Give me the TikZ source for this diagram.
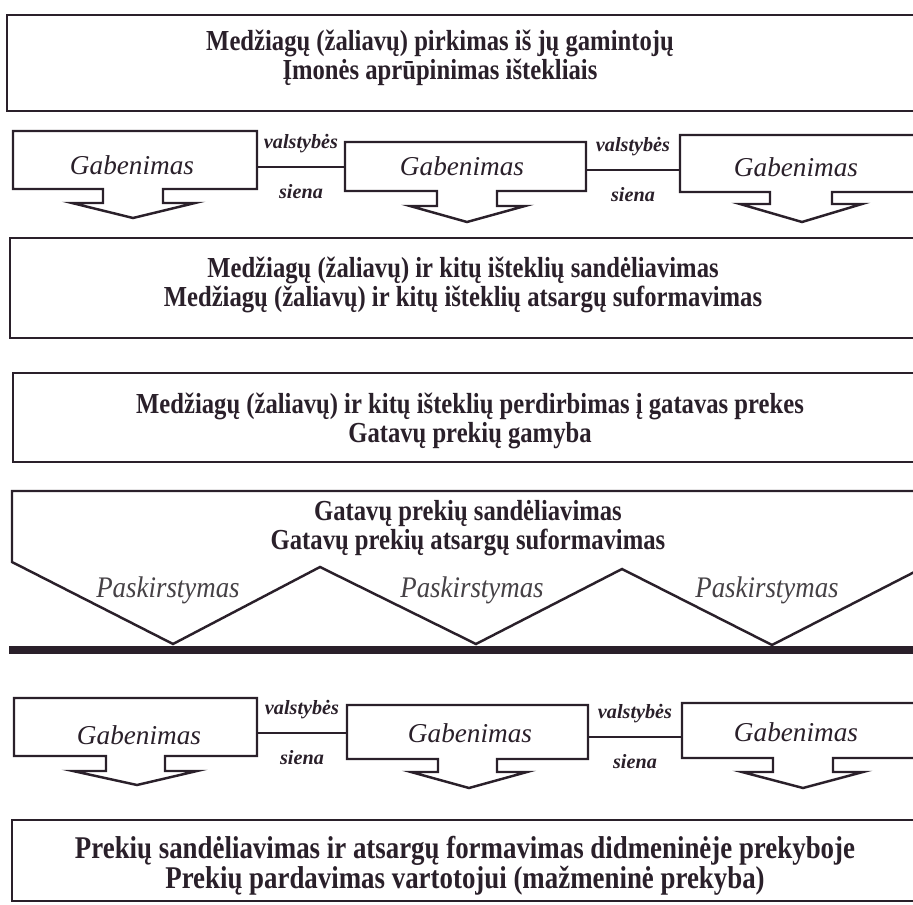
\documentclass[tikz,border=0pt]{standalone}
\usepackage{fontspec}
\setmainfont{Liberation Serif}
\newfontfamily\narrowserif[FakeStretch=0.9]{Liberation Serif}
\newfontfamily\condserif[FakeStretch=0.85]{Liberation Serif}
\definecolor{inkcol}{RGB}{42,32,42}
\definecolor{distcol}{RGB}{70,66,70}

\begin{document}
\begin{tikzpicture}[x=0.02cm,y=-0.02cm]
  \tikzset{boxline/.style = {draw=inkcol,line width=1.4pt}}
  \tikzset{bigtext/.style = {text=inkcol,align=center,font=\condserif\bfseries\fontsize{16.5}{16.5}\selectfont}}
  \tikzset{shoptext/.style = {text=inkcol,align=center,font=\condserif\bfseries\fontsize{18}{17}\selectfont}}
  \tikzset{gabtext/.style = {text=inkcol,font=\itshape\fontsize{15.5}{18}\selectfont}}
  \tikzset{bordertext/.style = {text=inkcol,inner sep=2pt,font=\bfseries\itshape\fontsize{11.5}{13}\selectfont}}
  \tikzset{disttext/.style = {text=distcol,font=\narrowserif\itshape\fontsize{17}{18}\selectfont}}

  \fill[white] (0,0) rectangle (913,905);
  \useasboundingbox (0,0) rectangle (913,905);
  \clip (0,0) rectangle (913,905);

  % big boxes
  \draw[boxline] (930,15) -- (7,15) -- (7,111) -- (930,111);
  \draw[boxline] (930,238) -- (10,238) -- (10,338) -- (930,338);
  \draw[boxline] (930,373) -- (13,373) -- (13,462) -- (930,462);
  \draw[boxline] (930,491) -- (12,491) -- (12,562) -- (173,644) -- (320,567) -- (476,644) -- (622,569) -- (772,645) -- (930,564);
  \draw[draw=inkcol,line width=4.5pt] (9,650) -- (930,650);
  \draw[boxline] (930,820) -- (12,820) -- (12,901) -- (930,901);

  \node[bigtext] (pirkimas) at (440,58) {Medžiagų (žaliavų) pirkimas iš jų gamintojų\\Įmonės aprūpinimas ištekliais};
  \node[bigtext] (sandelis) at (463,285) {Medžiagų (žaliavų) ir kitų išteklių sandėliavimas\\Medžiagų (žaliavų) ir kitų išteklių atsargų suformavimas};
  \node[bigtext] (gamyba) at (470,421) {Medžiagų (žaliavų) ir kitų išteklių perdirbimas į gatavas prekes\\Gatavų prekių gamyba};
  \node[bigtext] (gatavos) at (468,528) {Gatavų prekių sandėliavimas\\Gatavų prekių atsargų suformavimas};
  \node[shoptext] (prekyba) at (465,866) {Prekių sandėliavimas ir atsargų formavimas didmeninėje prekyboje\\Prekių pardavimas vartotojui (mažmeninė prekyba)};

  \foreach \nm/\x in {pa1/168, pa2/472, pa3/767}
    \node[disttext] (\nm) at (\x,590) {Paskirstymas};

  % transport arrows
  \foreach \l/\t/\r/\b/\sl/\sr/\sb/\wl/\wr/\tx/\ty in {
      13/131/257/189/103/163/203/72/195/133/218,
      345/142/586/191/437/497/206/410/525/467/222,
      680/135/930/192/770/832/204/740/862/802/222,
      14/698/257/756/106/165/771/73/197/137/785,
      347/705/588/759/438/497/772/411/527/469/788,
      682/703/930/758/773/833/772/742/863/803/788}
    \draw[boxline] (\r,\t) -- (\l,\t) -- (\l,\b) -- (\sl,\b) -- (\sl,\sb) -- (\wl,\sb) -- (\tx,\ty)
      -- (\wr,\sb) -- (\sr,\sb) -- (\sr,\b) -- (\r,\b) -- cycle;

  \foreach \nm/\x/\y in {g11/132/165, g12/462/166, g13/796/167, g21/139/735, g22/470/733, g23/796/732}
    \node[gabtext] (\nm) at (\x,\y) {Gabenimas};

  \coordinate (g11e) at (257,167);
  \coordinate (g12w) at (345,167);
  \coordinate (g12e) at (586,170);
  \coordinate (g13w) at (680,170);
  \coordinate (g21e) at (257,733);
  \coordinate (g22w) at (347,733);
  \coordinate (g22e) at (588,737);
  \coordinate (g23w) at (682,737);

  \foreach \from/\to in {g11e/g12w, g12e/g13w, g21e/g22w, g22e/g23w}
    \draw[boxline] (\from) -- node[bordertext,above=5.5pt] (v\from) {valstybės}
      node[bordertext,below=7.5pt] (s\from) {siena} (\to);
\end{tikzpicture}
\end{document}
